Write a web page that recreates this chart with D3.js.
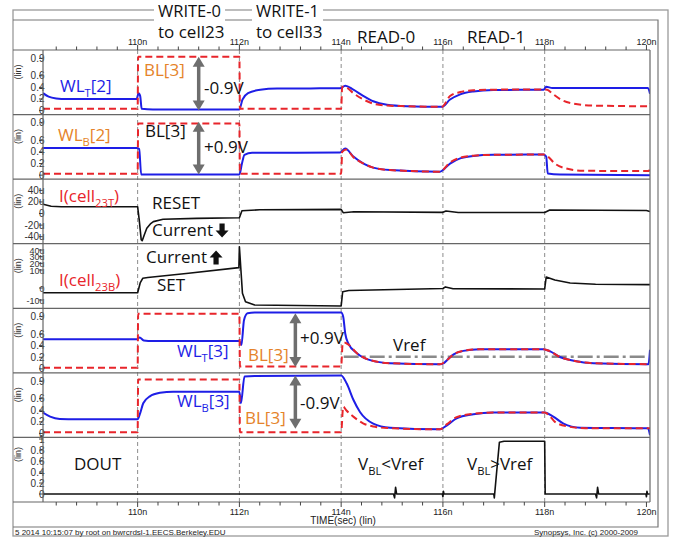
<!DOCTYPE html>
<html><head><meta charset="utf-8">
<script src="https://cdn.jsdelivr.net/npm/d3@7"></script>
<style>body{margin:0;background:#fff}svg{display:block}</style>
</head><body>
<svg id="c" width="679" height="538"></svg>
<script>
// ---------------- DATA (time in ns, voltages in V, currents in uA) ----------------
const timeDomain = [108.14, 120.07];
const majorTicks = [110, 112, 114, 116, 118, 120];
const majorTickLabels = ["110n", "112n", "114n", "116n", "118n", "120n"];
const phaseTimes = [110, 112, 114, 116, 118];

const vTickValues = [0, 0.2, 0.4, 0.6, 0.9];
const vTickLabels = ["0", "0.2", "0.4", "0.6", "0.9"];
const iTTickValues = [40, 20, 0, -20, -40];
const iTTickLabels = ["40u", "20u", "0", "-20u", "-40u"];
const iBTickValues = [40, 30, 20, 10, 0, -10];
const iBTickLabels = ["40u", "30u", "20u", "10u", "0", "-10u"];
const doutTickValues = [1, 0.8, 0.6, 0.4, 0.2, 0];
const doutTickLabels = ["1", "0.8", "0.6", "0.4", "0.2", "0"];

// Panel 1: WL_T[2] (blue) and BL[3] (red dashed)
const wlT2 = [[108.14,0.30],[108.25,0.24],[108.40,0.21],[108.6,0.20],[109.98,0.20],[110.02,0.30],[110.05,0.25],[110.08,0.03],[110.3,0.02],[112.0,0.02],[112.06,0.19],[112.17,0.30],[112.41,0.36],[112.74,0.38],[113.98,0.385],[114.08,0.43],[114.24,0.36],[114.44,0.25],[114.63,0.16],[114.9,0.10],[115.29,0.075],[115.98,0.065],[116.14,0.19],[116.34,0.28],[116.6,0.33],[116.99,0.355],[117.98,0.36],[118.03,0.41],[118.15,0.39],[120.03,0.39],[120.07,0.29]];
const bl3Top = [[108.14,0.03],[110.0,0.03],[110.01,0.93],[112.0,0.93],[112.01,0.03],[114.0,0.03],[114.02,0.41],[114.1,0.40],[114.24,0.30],[114.44,0.19],[114.63,0.12],[114.9,0.086],[115.29,0.075],[115.98,0.065],[116.14,0.25],[116.34,0.32],[116.6,0.35],[116.99,0.36],[117.98,0.365],[118.05,0.36],[118.14,0.30],[118.34,0.18],[118.56,0.12],[118.95,0.086],[120.03,0.075],[120.07,0.12]];

// Panel 2: WL_B[2] (blue) and BL[3]
const wlB2 = [[108.14,0.47],[109.98,0.47],[110.03,0.45],[110.07,0.01],[112.0,0.01],[112.05,0.2],[112.1,0.35],[112.25,0.385],[113.98,0.39],[114.08,0.46],[114.24,0.32],[114.44,0.2],[114.63,0.13],[114.96,0.088],[115.94,0.06],[116.14,0.2],[116.34,0.29],[116.6,0.33],[116.99,0.35],[117.98,0.355],[118.03,0.32],[118.06,0.03],[118.3,0.01],[120.07,0.0]];
const bl3Bot = [[108.14,0.025],[110.0,0.025],[110.01,0.89],[112.0,0.89],[112.01,0.025],[114.0,0.025],[114.02,0.40],[114.1,0.44],[114.24,0.31],[114.44,0.2],[114.63,0.13],[114.96,0.088],[115.94,0.06],[116.14,0.22],[116.34,0.30],[116.6,0.335],[116.99,0.35],[117.98,0.355],[118.05,0.33],[118.2,0.2],[118.4,0.12],[118.75,0.076],[120.03,0.07],[120.07,0.09]];

// Panel 3: I(cell23T) in uA
const iCell23T = [[108.14,15.9],[108.3,12.5],[108.5,11.7],[110.0,11.7],[110.03,-10],[110.07,-45],[110.09,-47],[110.13,-37],[110.18,-25.5],[110.25,-18],[110.31,-14],[110.5,-10],[111.16,-8.3],[112.0,-7.2],[112.05,4.8],[112.4,6.4],[114.0,7.2],[114.04,1.4],[114.25,3.1],[116.0,2.0],[116.06,4.3],[116.3,1.7],[118.0,1.7],[118.1,6.0],[120.0,5.2],[120.07,3.4]];

// Panel 4: I(cell23B) in uA
const iCell23B = [[108.14,-4],[110.0,-4],[110.05,2.8],[110.1,5.4],[110.2,5.8],[111.0,8.2],[111.99,13.6],[112.0,45],[112.03,10],[112.06,-4.4],[112.12,-11.4],[112.3,-14.2],[114.0,-15],[114.03,-3.1],[114.15,-2.1],[116.0,-0.4],[116.05,0.6],[116.2,-0.6],[118.0,-0.8],[118.03,6.1],[118.2,4.4],[118.5,2.8],[119.0,2.1],[120.07,1.9]];

// Panel 5: WL_T[3] (blue), BL[3] (red dashed), Vref
const wlT3 = [[108.14,0.51],[109.98,0.51],[110.04,0.54],[110.12,0.49],[110.3,0.48],[112.0,0.48],[112.04,0.41],[112.09,0.84],[112.16,0.96],[112.3,0.97],[114.0,0.97],[114.04,0.9],[114.08,0.61],[114.14,0.44],[114.31,0.27],[114.57,0.15],[114.96,0.097],[115.94,0.08],[116.02,0.1],[116.08,0.15],[116.21,0.25],[116.4,0.31],[116.73,0.34],[117.98,0.34],[118.11,0.30],[118.31,0.20],[118.57,0.14],[118.96,0.097],[120.04,0.08],[120.07,0.33]];
const bl3T3 = [[108.14,0.02],[110.0,0.02],[110.01,0.95],[112.0,0.95],[112.01,0.04],[114.0,0.04],[114.03,0.44],[114.07,0.45],[114.14,0.42],[114.31,0.27],[114.57,0.15],[114.96,0.097],[115.94,0.08],[116.08,0.15],[116.21,0.25],[116.4,0.31],[116.73,0.34],[117.98,0.34],[118.11,0.30],[118.31,0.20],[118.57,0.14],[118.96,0.097],[120.07,0.08]];
const vref = [[114.05,0.21],[120.0,0.21]];

// Panel 6: WL_B[3] (blue), BL[3] (red dashed)
const wlB3 = [[108.14,0.36],[108.28,0.29],[108.47,0.25],[108.8,0.245],[110.0,0.245],[110.05,0.35],[110.11,0.52],[110.24,0.64],[110.44,0.70],[110.7,0.72],[112.0,0.72],[112.03,0.52],[112.1,0.98],[112.3,0.99],[114.0,1.0],[114.11,0.86],[114.24,0.58],[114.37,0.37],[114.63,0.17],[114.96,0.10],[115.94,0.07],[116.08,0.14],[116.27,0.26],[116.6,0.33],[116.99,0.36],[118.0,0.36],[118.17,0.29],[118.37,0.17],[118.7,0.10],[120.03,0.088],[120.07,-0.03]];
const bl3B3 = [[108.14,0.02],[110.0,0.02],[110.01,0.93],[112.0,0.93],[112.01,0.02],[114.0,0.02],[114.04,0.46],[114.1,0.40],[114.24,0.29],[114.44,0.17],[114.63,0.12],[114.96,0.09],[115.94,0.07],[116.08,0.16],[116.27,0.28],[116.6,0.34],[116.99,0.36],[118.0,0.36],[118.1,0.30],[118.2,0.2],[118.45,0.12],[118.8,0.09],[120.07,0.088]];

// Panel 7: DOUT
const dout = [[108.14,0],[115.03,0],[115.05,-0.07],[115.07,0.12],[115.09,0],[115.99,0],[116.0,-0.05],[116.01,0.05],[116.02,0],[117.0,0],[117.01,-0.07],[117.06,0.44],[117.11,0.94],[117.2,0.96],[118.0,0.96],[118.01,0],[119.0,0],[119.02,-0.07],[119.04,0.12],[119.06,0],[119.99,0],[120.0,-0.05],[120.01,0.05],[120.02,0],[120.07,0]];

// ---------------- LAYOUT ----------------
const L = 43, R = 650, T = 50, B = 502, NP = 7;
const ph = (B - T) / NP;
const ptop = i => T + i * ph;
const FONT = "'Open Sans','DejaVu Sans',sans-serif";
const AXF = "'Liberation Sans','Arial',sans-serif";
const BLUE = "#1e1ee6", RED = "#e8252b", ORANGE = "#e5832a", GRAY = "#6e6e6e";

const svg = d3.select("#c");
const x = d3.scaleLinear().domain(timeDomain).range([L, R]);

function vScale(i) { const b = ptop(i + 1); return d3.scaleLinear().domain([-4 / 58, (ph - 4) / 58]).range([b, b - ph]); }
const yP3 = d3.scaleLinear().domain([-52.1, 59.3]).range([ptop(3), ptop(2)]);
const yP4 = d3.scaleLinear().domain([-16.9, -10, 0, 10, 40, 49.5]).range([ptop(4), 300, 288, 270, 250, ptop(3)]);
const yP7 = d3.scaleLinear().domain([-8 / 55, (ph - 8) / 55]).range([ptop(7), ptop(6)]);

const panels = [
  { y: vScale(0), tv: vTickValues, tl: vTickLabels, series: [{ d: wlT2, k: "blue" }, { d: bl3Top, k: "red" }] },
  { y: vScale(1), tv: vTickValues, tl: vTickLabels, series: [{ d: wlB2, k: "blue" }, { d: bl3Bot, k: "red" }] },
  { y: yP3, tv: iTTickValues, tl: iTTickLabels, series: [{ d: iCell23T, k: "black" }] },
  { y: yP4, tv: iBTickValues, tl: iBTickLabels, series: [{ d: iCell23B, k: "black" }], fs: 9 },
  { y: vScale(4), tv: vTickValues, tl: vTickLabels, series: [{ d: vref, k: "vref" }, { d: wlT3, k: "blue" }, { d: bl3T3, k: "red" }] },
  { y: vScale(5), tv: vTickValues, tl: vTickLabels, series: [{ d: wlB3, k: "blue" }, { d: bl3B3, k: "red" }] },
  { y: yP7, tv: doutTickValues, tl: doutTickLabels, series: [{ d: dout, k: "black" }], linOff: 17 }
];

const styles = {
  blue: { stroke: BLUE, w: 2, dash: null },
  red: { stroke: RED, w: 2, dash: "7,4" },
  black: { stroke: "#111", w: 1.6, dash: null },
  vref: { stroke: "#8a8a8a", w: 2.6, dash: "15,4,3,4" }
};

svg.append("defs").append("clipPath").attr("id", "clip")
  .append("rect").attr("x", L).attr("y", T).attr("width", R - L).attr("height", B - T);

// phase dashed lines
svg.append("g").selectAll("line").data(phaseTimes).join("line")
  .attr("x1", d => x(d)).attr("x2", d => x(d)).attr("y1", T).attr("y2", B)
  .attr("stroke", "#8c8c8c").attr("stroke-width", 1).attr("stroke-dasharray", "4,3");

// data
const gData = svg.append("g").attr("clip-path", "url(#clip)");
panels.forEach(p => {
  p.series.forEach(s => {
    const st = styles[s.k];
    const line = d3.line().x(d => x(d[0])).y(d => p.y(d[1])).curve(s.k === "black" ? d3.curveLinear : d3.curveMonotoneX);
    gData.append("path").attr("d", line(s.d)).attr("fill", "none")
      .attr("stroke", st.stroke).attr("stroke-width", st.w)
      .attr("stroke-dasharray", st.dash).attr("stroke-linejoin", "round");
  });
});

// y tick labels & ticks
panels.forEach((p, i) => {
  const g = svg.append("g");
  p.tv.forEach((v, j) => {
    const yy = p.y(v);
    g.append("line").attr("x1", L - 4).attr("x2", L).attr("y1", yy).attr("y2", yy).attr("stroke", "#444").attr("stroke-width", 1);
    g.append("text").attr("x", L + 1.5).attr("y", yy + 3.5).attr("text-anchor", "end")
      .style("font-family", AXF).style("font-size", (p.fs || 10) + "px").attr("fill", "#333").text(p.tl[j]);
  });
  const cy = ptop(i) + (p.linOff || 22);
  g.append("text").attr("transform", `translate(21,${cy}) rotate(-90)`).attr("text-anchor", "middle")
    .style("font-family", AXF).style("font-size", "9px").attr("fill", "#333").text("(lin)");
});

// frames
const fr = svg.append("g").attr("fill", "none");
fr.append("rect").attr("x", 13).attr("y", 10).attr("width", 655).attr("height", 526).attr("stroke", "#9a9a9a").attr("stroke-width", 1.3);
fr.append("path").attr("d", "M13,20H658V527H13").attr("stroke", "#777").attr("stroke-width", 1.2);
for (let i = 0; i <= NP; i++) {
  fr.append("line").attr("x1", 13).attr("x2", R).attr("y1", ptop(i)).attr("y2", ptop(i)).attr("stroke", "#666").attr("stroke-width", 1.2);
}
fr.append("line").attr("x1", L).attr("x2", L).attr("y1", T).attr("y2", B).attr("stroke", "#666").attr("stroke-width", 1.2);
fr.append("line").attr("x1", R).attr("x2", R).attr("y1", T).attr("y2", B).attr("stroke", "#666").attr("stroke-width", 1.2);

// time axes
const minor = d3.range(108.4, 120.01, 0.4);
const ax = svg.append("g").attr("stroke", "#444").attr("stroke-width", 1);
minor.forEach(t => {
  const big = majorTicks.some(m => Math.abs(m - t) < 1e-6);
  ax.append("line").attr("x1", x(t)).attr("x2", x(t)).attr("y1", T).attr("y2", T - (big ? 5 : 3.5));
  ax.append("line").attr("x1", x(t)).attr("x2", x(t)).attr("y1", B).attr("y2", B + (big ? 5 : 3.5));
});
majorTicks.forEach((t, j) => {
  svg.append("text").attr("x", x(t)).attr("y", T - 5).attr("text-anchor", "middle")
    .style("font-family", AXF).style("font-size", "9px").attr("fill", "#222").text(majorTickLabels[j]);
  svg.append("text").attr("x", x(t)).attr("y", B + 13).attr("text-anchor", "middle")
    .style("font-family", AXF).style("font-size", "9px").attr("fill", "#222").text(majorTickLabels[j]);
});
svg.append("text").attr("x", 343).attr("y", 524).attr("text-anchor", "middle")
  .style("font-family", AXF).style("font-size", "10px").attr("fill", "#222").text("TIME(sec) (lin)");

// footer
svg.append("text").attr("x", 15).attr("y", 534.5).style("font-family", AXF).style("font-size", "8px").attr("fill", "#222")
  .text("5 2014 10:15:07 by root on bwrcrdsl-1.EECS.Berkeley.EDU");
svg.append("text").attr("x", 638).attr("y", 534.5).attr("text-anchor", "end").style("font-family", AXF).style("font-size", "8px").attr("fill", "#222")
  .text("Synopsys, Inc. (c) 2000-2009");

// ---------------- annotations ----------------
function rich(xp, yp, parts, color, fs) {
  const t = svg.append("text").attr("x", xp).attr("y", yp).attr("fill", color)
    .style("font-family", FONT).style("font-size", fs + "px");
  let sub = false;
  parts.forEach(p => {
    const ts = t.append("tspan").text(p.t);
    if (p.sub && !sub) { ts.attr("dy", 4.5).style("font-size", (fs * 0.66) + "px"); sub = true; }
    else if (!p.sub && sub) { ts.attr("dy", -4.5); sub = false; }
  });
  return t;
}
function label(xp, yp, txt, color, fs, bg) {
  const t = rich(xp, yp, [{ t: txt }], color, fs || 17);
  if (bg) {
    const bb = t.node().getBBox();
    svg.insert("rect", () => t.node()).attr("x", bb.x - 4).attr("y", 1).attr("width", bb.width + 8).attr("height", 22).attr("fill", "#fff");
  }
  return t;
}
// header
label(158, 17, "WRITE-0", "#111", 16.5, true);
label(158, 38, "to cell23", "#111", 17);
label(256, 17, "WRITE-1", "#111", 16.5, true);
label(256, 38, "to cell33", "#111", 17);
label(357, 43, "READ-0", "#111", 17);
label(467, 43, "READ-1", "#111", 17);

// double arrows
function dArrow(t, y, v1, v2) {
  const xp = x(t), ya = y(v1), yb = y(v2);
  const g = svg.append("g").attr("fill", GRAY);
  g.append("line").attr("x1", xp).attr("x2", xp).attr("y1", ya + 7).attr("y2", yb - 7).attr("stroke", GRAY).attr("stroke-width", 3.5);
  g.append("path").attr("d", `M${xp},${ya}L${xp - 6},${ya + 10}L${xp + 6},${ya + 10}Z`);
  g.append("path").attr("d", `M${xp},${yb}L${xp - 6},${yb - 10}L${xp + 6},${yb - 10}Z`);
}
dArrow(111.2, panels[0].y, 0.93, 0.0);
dArrow(111.2, panels[1].y, 0.92, 0.01);
dArrow(113.1, panels[4].y, 0.96, 0.03);
dArrow(113.1, panels[5].y, 1.0, 0.08);

// bold block arrow after text
function blockArrow(t, up) {
  const bb = t.node().getBBox();
  const cx = bb.x + bb.width + 9, cy = bb.y + bb.height / 2 + 1;
  const h = 7, s = 2.6, hw = 6.5, hh = 7;
  let d;
  if (up) d = `M${cx},${cy - h}L${cx + hw},${cy - h + hh}L${cx + s},${cy - h + hh}L${cx + s},${cy + h}L${cx - s},${cy + h}L${cx - s},${cy - h + hh}L${cx - hw},${cy - h + hh}Z`;
  else d = `M${cx},${cy + h}L${cx + hw},${cy + h - hh}L${cx + s},${cy + h - hh}L${cx + s},${cy - h}L${cx - s},${cy - h}L${cx - s},${cy + h - hh}L${cx - hw},${cy + h - hh}Z`;
  svg.append("path").attr("d", d).attr("fill", "#111");
}

// panel 1
rich(60, 92, [{ t: "WL" }, { t: "T", sub: true }, { t: "[2]" }], BLUE, 17);
label(144, 76, "BL[3]", ORANGE, 17);
label(204, 94, "-0.9V", "#111", 17);
// panel 2
rich(58, 141, [{ t: "WL" }, { t: "B", sub: true }, { t: "[2]" }], ORANGE, 17);
label(145, 137, "BL[3]", "#111", 17);
label(204, 153, "+0.9V", "#111", 17);
// panel 3
rich(59, 202, [{ t: "I(cell" }, { t: "23T", sub: true }, { t: ")" }], RED, 17);
label(152, 209, "RESET", "#111", 17);
blockArrow(label(152, 236, "Current", "#111", 17), false);
// panel 4
blockArrow(label(146, 263, "Current", "#111", 17), true);
rich(59, 286, [{ t: "I(cell" }, { t: "23B", sub: true }, { t: ")" }], RED, 17);
label(157, 291, "SET", "#111", 17);
// panel 5
rich(177, 357, [{ t: "WL" }, { t: "T", sub: true }, { t: "[3]" }], BLUE, 17);
label(248, 361, "BL[3]", ORANGE, 17);
label(300, 344, "+0.9V", "#111", 17);
label(393, 351, "Vref", "#111", 17);
// panel 6
rich(177, 407, [{ t: "WL" }, { t: "B", sub: true }, { t: "[3]" }], BLUE, 17);
label(245, 424, "BL[3]", ORANGE, 17);
label(300, 409, "-0.9V", "#111", 17);
// panel 7
label(74, 470, "DOUT", "#111", 17);
rich(358, 470, [{ t: "V" }, { t: "BL", sub: true }, { t: "<Vref" }], "#111", 17);
rich(467, 470, [{ t: "V" }, { t: "BL", sub: true }, { t: ">Vref" }], "#111", 17);
</script>
</body></html>
